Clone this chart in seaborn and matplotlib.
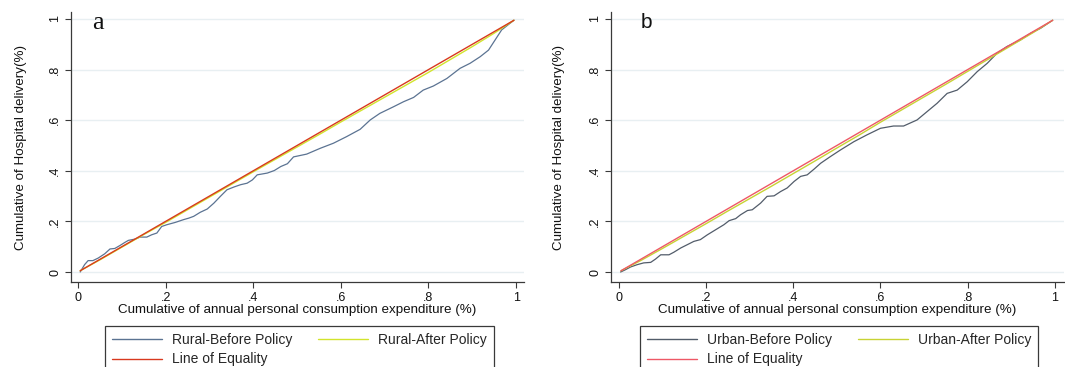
import numpy as np
import pandas as pd
import seaborn as sns
import matplotlib
matplotlib.use("Agg")
import matplotlib.pyplot as plt
from matplotlib.lines import Line2D

# ---------------- data ----------------
rural_before_x = [0.005, 0.015, 0.023, 0.034, 0.046, 0.061, 0.073, 0.084, 0.096, 0.107,
                  0.115, 0.130, 0.142, 0.157, 0.168, 0.180, 0.191, 0.203, 0.222, 0.241,
                  0.253, 0.264, 0.279, 0.295, 0.310, 0.325, 0.340, 0.356, 0.371, 0.386,
                  0.398, 0.409, 0.432, 0.448, 0.463, 0.478, 0.492, 0.522, 0.553, 0.583,
                  0.613, 0.644, 0.667, 0.689, 0.720, 0.743, 0.766, 0.788, 0.811, 0.842,
                  0.872, 0.895, 0.918, 0.937, 0.952, 0.967, 0.995]
rural_before_y = [0.000, 0.029, 0.045, 0.045, 0.055, 0.072, 0.091, 0.093, 0.105, 0.117,
                  0.125, 0.130, 0.138, 0.138, 0.147, 0.154, 0.180, 0.187, 0.196, 0.207,
                  0.213, 0.220, 0.236, 0.249, 0.272, 0.299, 0.325, 0.336, 0.345, 0.351,
                  0.364, 0.384, 0.391, 0.401, 0.417, 0.428, 0.455, 0.466, 0.489, 0.509,
                  0.535, 0.564, 0.601, 0.627, 0.653, 0.673, 0.690, 0.719, 0.735, 0.765,
                  0.805, 0.825, 0.851, 0.877, 0.917, 0.957, 0.995]

urban_before_x = [0.004, 0.015, 0.027, 0.042, 0.057, 0.073, 0.084, 0.096, 0.115, 0.126,
                  0.142, 0.157, 0.172, 0.187, 0.203, 0.222, 0.241, 0.253, 0.268, 0.279,
                  0.295, 0.306, 0.325, 0.340, 0.356, 0.371, 0.386, 0.402, 0.417, 0.432,
                  0.448, 0.463, 0.485, 0.508, 0.539, 0.569, 0.600, 0.630, 0.653, 0.684,
                  0.707, 0.730, 0.753, 0.776, 0.799, 0.822, 0.845, 0.867, 0.890, 0.921,
                  0.944, 0.967, 0.995]
urban_before_y = [0.000, 0.009, 0.020, 0.029, 0.036, 0.038, 0.051, 0.068, 0.068, 0.078,
                  0.095, 0.108, 0.121, 0.128, 0.147, 0.167, 0.187, 0.203, 0.211, 0.226,
                  0.243, 0.246, 0.272, 0.299, 0.301, 0.318, 0.332, 0.358, 0.378, 0.384,
                  0.407, 0.430, 0.456, 0.482, 0.515, 0.542, 0.568, 0.577, 0.577, 0.601,
                  0.634, 0.667, 0.706, 0.719, 0.752, 0.792, 0.825, 0.864, 0.891, 0.917,
                  0.943, 0.963, 0.995]

after_x = [0.005, 0.05, 0.10, 0.15, 0.20, 0.25, 0.30, 0.35, 0.40, 0.45, 0.50,
           0.55, 0.60, 0.65, 0.70, 0.75, 0.80, 0.85, 0.90, 0.95, 0.995]
rural_after_y = [0.005, 0.048, 0.098, 0.148, 0.196, 0.246, 0.296, 0.346, 0.396, 0.445, 0.494,
                 0.543, 0.593, 0.642, 0.691, 0.740, 0.789, 0.840, 0.891, 0.944, 0.995]
urban_after_y = [0.005, 0.045, 0.093, 0.142, 0.191, 0.241, 0.290, 0.339, 0.389, 0.439, 0.490,
                 0.540, 0.592, 0.642, 0.692, 0.742, 0.793, 0.844, 0.895, 0.946, 0.995]

equality_x = [0.005, 0.995]
equality_y = [0.005, 0.995]

tick_values = [0, 0.2, 0.4, 0.6, 0.8, 1.0]
tick_labels = ["0", ".2", ".4", ".6", ".8", "1"]

panels = [
    dict(letter="a", group="Rural", bx=rural_before_x, by=rural_before_y, ay=rural_after_y,
         cb="#5b7392", ca="#d2e42c", ce="#d8391f", left=71, right=524, xlim=(-0.016, 1.018),
         leg_l=105, ylab_x=21, letter_font="Liberation Serif", letter_size=19, letter_x=98),
    dict(letter="b", group="Urban", bx=urban_before_x, by=urban_before_y, ay=urban_after_y,
         cb="#525c6a", ca="#c8d334", ce="#ee5866", left=611, right=1064, xlim=(-0.018, 1.021),
         leg_l=640, ylab_x=559, letter_font="Liberation Sans", letter_size=15, letter_x=646),
]

# ---------------- style ----------------
sns.set_theme(style="white")
plt.rcParams["font.family"] = ["Liberation Sans", "DejaVu Sans"]

W, H = 1065, 367
fig = plt.figure(figsize=(W / 100, H / 100), dpi=100)
tick_fs = 9
label_fs = 9.6
leg_fs = 10
top_px, bot_px = 12, 282

for p in panels:
    ax = fig.add_axes([p["left"] / W, 1 - bot_px / H, (p["right"] - p["left"]) / W,
                       (bot_px - top_px) / H])
    for yv in tick_values:
        ax.axhline(yv, color="#e8eff2", lw=1.0, zorder=0)
    sns.lineplot(x=p["bx"], y=p["by"], ax=ax, color=p["cb"], lw=0.9,
                 estimator=None, sort=False, zorder=2)
    sns.lineplot(x=after_x, y=p["ay"], ax=ax, color=p["ca"], lw=1.0,
                 estimator=None, sort=False, zorder=3)
    sns.lineplot(x=equality_x, y=equality_y, ax=ax, color=p["ce"], lw=1.0,
                 estimator=None, sort=False, zorder=4)

    ax.set_xlim(*p["xlim"])
    ax.set_ylim(-10 / 253, 1 + 7 / 253)
    ax.set_xticks(tick_values)
    ax.set_xticklabels(tick_labels)
    ax.set_yticks(tick_values)
    ax.set_yticklabels(tick_labels, rotation=90, va="center")
    for s in ["top", "right"]:
        ax.spines[s].set_visible(False)
    for s in ["left", "bottom"]:
        ax.spines[s].set_color("#3a3a3a")
        ax.spines[s].set_linewidth(0.9)
    ax.tick_params(axis="both", which="major", length=4, width=0.8, color="#3a3a3a",
                   labelsize=tick_fs, labelcolor="#111111", direction="out", pad=3,
                   bottom=True, left=True)

    ax.set_xlabel("Cumulative of annual personal consumption expenditure (%)",
                  fontsize=label_fs, color="#111111")
    ax.xaxis.set_label_coords(0.5, (bot_px - 310.5) / (bot_px - top_px))
    ax.xaxis.label.set_va("center")
    ax.set_ylabel("Cumulative of Hospital delivery(%)", fontsize=label_fs, color="#111111")
    ax.yaxis.set_label_coords((p["ylab_x"] - p["left"]) / (p["right"] - p["left"]), 0.5)
    ax.yaxis.label.set_va("center")

    ax.text((p["letter_x"] - p["left"]) / (p["right"] - p["left"]),
            (bot_px - 23) / (bot_px - top_px), p["letter"], transform=ax.transAxes,
            fontsize=p["letter_size"], family=p["letter_font"], va="center", ha="center",
            color="#111111")

    handles = [Line2D([], [], color=p["cb"], lw=1.0),
               Line2D([], [], color=p["ce"], lw=1.0),
               Line2D([], [], color=p["ca"], lw=1.0)]
    labels = [f"{p['group']}-Before Policy", "Line of Equality", f"{p['group']}-After Policy"]
    leg = ax.legend(handles, labels, ncol=2, loc="upper left",
                    bbox_to_anchor=(p["leg_l"] / W, 1 - 326 / H), bbox_transform=fig.transFigure,
                    frameon=True, fancybox=False, framealpha=1,
                    edgecolor="#3a3a3a", fontsize=leg_fs, borderpad=0.5, labelspacing=0.4,
                    handlelength=3.6, handletextpad=0.7, columnspacing=1.9, borderaxespad=0)
    leg.get_frame().set_linewidth(0.9)

fig.savefig("out.png", dpi=100)
